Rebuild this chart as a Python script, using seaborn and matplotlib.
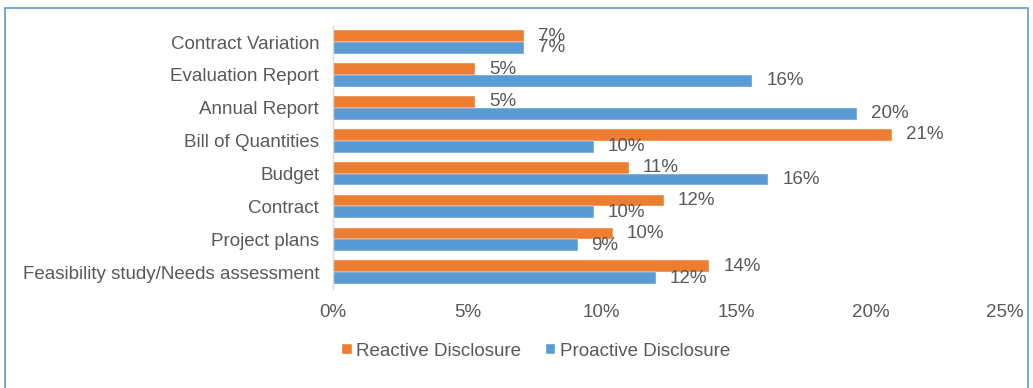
import matplotlib
matplotlib.use("Agg")
import matplotlib.pyplot as plt
from matplotlib.patches import Rectangle
import seaborn as sns
import pandas as pd

categories = [
    "Contract Variation",
    "Evaluation Report",
    "Annual Report",
    "Bill of Quantities",
    "Budget",
    "Contract",
    "Project plans",
    "Feasibility study/Needs assessment",
]
reactive = [7.1, 5.3, 5.3, 20.8, 11.0, 12.3, 10.4, 14.0]
proactive = [7.1, 15.6, 19.5, 9.7, 16.2, 9.7, 9.1, 12.0]
series_names = ["Reactive Disclosure", "Proactive Disclosure"]
x_ticks = [0, 5, 10, 15, 20, 25]

df = pd.DataFrame({
    "category": categories * 2,
    "value": reactive + proactive,
    "series": [series_names[0]] * len(categories) + [series_names[1]] * len(categories),
})

sns.set_theme(style="white")
plt.rcParams["font.family"] = ["Liberation Sans", "DejaVu Sans"]
text_color = "#595959"
fs = 13.5

fig = plt.figure(figsize=(10.33, 3.88), dpi=100)
ax = fig.add_axes([0.3224, 0.256, 0.6505, 0.678])

palette = {series_names[0]: "#ED7D31", series_names[1]: "#5B9BD5"}
sns.barplot(
    data=df, x="value", y="category", hue="series", order=categories,
    hue_order=series_names, palette=palette, orient="h", width=0.72,
    saturation=1, ax=ax, errorbar=None, edgecolor="white", linewidth=0.3,
)

for container in ax.containers:
    ax.bar_label(container, labels=[f"{v:.0f}%" for v in container.datavalues],
                 padding=10, fontsize=fs, color=text_color)

ax.set_xlim(0, 25)
ax.set_xticks(x_ticks)
ax.set_xticklabels([f"{t}%" for t in x_ticks])
ax.set_xlabel("")
ax.set_ylabel("")
ax.tick_params(axis="x", length=0, pad=11, labelsize=fs, labelcolor=text_color)
ax.tick_params(axis="y", length=0, pad=10, labelsize=fs, labelcolor=text_color)
for side in ["top", "right", "bottom"]:
    ax.spines[side].set_visible(False)
ax.spines["left"].set_color("#D9D9D9")
ax.spines["left"].set_linewidth(1)

handles, labels = ax.get_legend_handles_labels()
ax.legend_.remove()
fig.legend(handles, labels, loc="center", bbox_to_anchor=(0.519, 0.095), ncol=2,
           frameon=False, handlelength=0.5, handleheight=0.5, handletextpad=0.25,
           columnspacing=1.3, fontsize=fs, labelcolor=text_color)

fig.patches.append(Rectangle((5 / 1033, -0.05), 1023 / 1033, 1.05 - 8 / 388,
                             transform=fig.transFigure, fill=False,
                             edgecolor="#5B9BD5", linewidth=1.2))

fig.savefig("out.png", dpi=100)
